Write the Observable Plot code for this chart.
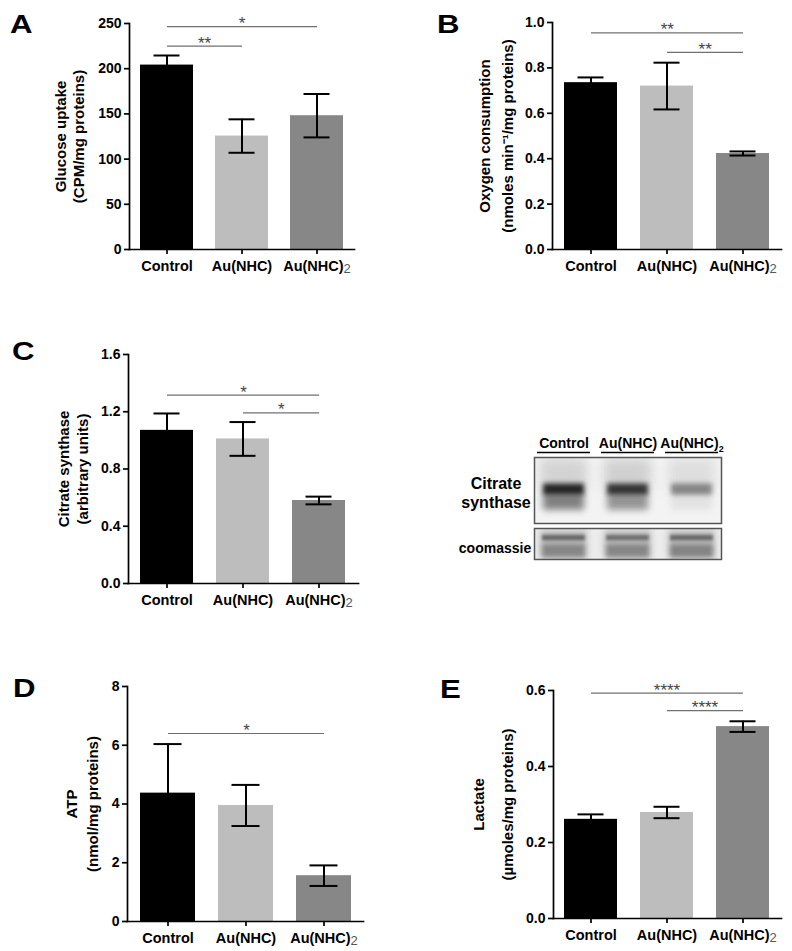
<!DOCTYPE html>
<html><head><meta charset="utf-8">
<script src="https://cdn.jsdelivr.net/npm/d3@7"></script>
<script src="https://cdn.jsdelivr.net/npm/@observablehq/plot@0.6"></script>
<style>
body{margin:0;background:#fff}
#fig{position:relative;width:792px;height:951px;background:#fff;overflow:hidden}
#fig > svg{position:absolute}
</style></head><body><div id="fig"></div>
<script>
const FONT = '"Liberation Sans", Arial, Helvetica, sans-serif';
const categories = ["Control", "Au(NHC)", "Au(NHC)2"];
const barColors = ["#000000", "#bdbdbd", "#878787"];

// A: glucose uptake
const glucoseMean = [204, 125.5, 148];
const glucoseErr = [10.6, 18.5, 24];
const glucoseTicks = [0, 50, 100, 150, 200, 250];
const glucoseSigFrom = [0, 0];
const glucoseSigTo = [2, 1];
const glucoseSigY = [246.5, 225];
const glucoseSigLabel = ["*", "**"];

// B: oxygen consumption
const oxygenMean = [0.735, 0.72, 0.423];
const oxygenErr = [0.023, 0.103, 0.009];
const oxygenTicks = [0, 0.2, 0.4, 0.6, 0.8, 1.0];
const oxygenSigFrom = [0, 1];
const oxygenSigTo = [2, 2];
const oxygenSigY = [0.954, 0.868];
const oxygenSigLabel = ["**", "**"];

// C: citrate synthase
const citrateMean = [1.07, 1.01, 0.58];
const citrateErr = [0.118, 0.118, 0.027];
const citrateTicks = [0, 0.4, 0.8, 1.2, 1.6];
const citrateSigFrom = [0, 1];
const citrateSigTo = [2, 2];
const citrateSigY = [1.316, 1.192];
const citrateSigLabel = ["*", "*"];

// D: ATP
const atpMean = [4.37, 3.95, 1.56];
const atpErr = [1.67, 0.70, 0.35];
const atpTicks = [0, 2, 4, 6, 8];
const atpSigFrom = [0];
const atpSigTo = [2];
const atpSigY = [6.40];
const atpSigLabel = ["*"];

// E: lactate
const lactateMean = [0.261, 0.279, 0.505];
const lactateErr = [0.013, 0.015, 0.014];
const lactateTicks = [0, 0.2, 0.4, 0.6];
const lactateSigFrom = [0, 1];
const lactateSigTo = [2, 2];
const lactateSigY = [0.593, 0.547];
const lactateSigLabel = ["****", "****"];

// Western blot (relative band densities)
const blotLanes = ["Control", "Au(NHC)", "Au(NHC)2"];
const csSmear = [0.20, 0.22, 0.13];
const csMain = [0.90, 0.82, 0.45];
const csLower = [0.55, 0.45, 0.08];
const cmBase = [0.30, 0.30, 0.30];
const cmTop = [0.55, 0.50, 0.55];
const cmLower = [0.40, 0.40, 0.42];

const fig = document.getElementById("fig");

// render a trailing "2" as a subscript tspan
function subscriptTwo(svg, size, weight, fill, dy) {
  d3.select(svg).selectAll("text").each(function () {
    if (this.children.length === 0 && this.textContent === "Au(NHC)2") {
      this.textContent = "Au(NHC)";
      d3.select(this).append("tspan").attr("font-size", size).attr("font-weight", weight)
        .attr("fill", fill).attr("dy", dy).text("2");
    }
  });
}

function barPanel(cfg) {
  const {means, errs, ticks, fmt, from, to, sigY, sigLabel, title, titleDx, left, top, width, height, m} = cfg;
  const data = categories.map((c, i) => ({group: c, mean: means[i], err: errs[i]}));
  const step = (width - m.l - m.r) / categories.length;
  const sig = from.map((f, k) => ({a: categories[f], b: categories[to[k]], y: sigY[k], label: sigLabel[k], span: to[k] - f}));
  const sw = 1.7;
  const plot = Plot.plot({
    width, height,
    marginLeft: m.l, marginRight: m.r, marginTop: m.t, marginBottom: m.b,
    style: {fontFamily: FONT, color: "black", background: "transparent", overflow: "visible"},
    x: {domain: categories, paddingInner: 0.3, paddingOuter: 0.15, label: null, axis: null},
    y: {domain: [0, ticks[ticks.length - 1]], label: null, axis: null},
    color: {domain: categories, range: barColors},
    marks: [
      Plot.barY(data, {x: "group", y: "mean", fill: "group"}),
      Plot.ruleX(data, {x: "group", y1: d => d.mean - d.err, y2: d => d.mean + d.err, stroke: "black", strokeWidth: 2}),
      Plot.tickY(data, {x: "group", y: d => d.mean + d.err, stroke: "black", strokeWidth: 2, inset: 13.5}),
      Plot.tickY(data, {x: "group", y: d => d.mean - d.err, stroke: "black", strokeWidth: 2, inset: 13.5}),
      Plot.link(sig, {x1: "a", x2: "b", y1: "y", y2: "y", stroke: "#707070", strokeWidth: 1.2}),
      ...sig.map(s => Plot.text([s], {x: "a", y: "y", text: "label", dx: s.span * step / 2, dy: -3, fontSize: 17, fill: "#444", fontWeight: "normal"})),
      Plot.axisY({ticks, tickFormat: fmt, tickSize: 5, tickPadding: 3, fontSize: 14, fontWeight: "bold", strokeWidth: sw, label: null}),
      Plot.axisX({tickSize: 5, tickPadding: 6, fontSize: 14.5, fontWeight: "bold", strokeWidth: sw, label: null}),
      Plot.frame({anchor: "left", strokeWidth: sw}),
      Plot.frame({anchor: "bottom", strokeWidth: sw}),
      ...title.map((t, k) => Plot.text([t], {text: d => d, frameAnchor: "left", textAnchor: "middle", rotate: -90, dx: titleDx[k], fontSize: 15, fontWeight: "bold"}))
    ]
  });
  subscriptTwo(plot, 13, "normal", "#555", 2);
  plot.style.left = left + "px";
  plot.style.top = top + "px";
  fig.appendChild(plot);
}

barPanel({means: glucoseMean, errs: glucoseErr, ticks: glucoseTicks, fmt: d3.format("d"),
  from: glucoseSigFrom, to: glucoseSigTo, sigY: glucoseSigY, sigLabel: glucoseSigLabel,
  title: ["Glucose uptake", "(CPM/mg proteins)"], titleDx: [-68, -50],
  left: 0, top: 0, width: 400, height: 300, m: {l: 129, r: 46, t: 23, b: 51}});

barPanel({means: oxygenMean, errs: oxygenErr, ticks: oxygenTicks, fmt: d3.format(".1f"),
  from: oxygenSigFrom, to: oxygenSigTo, sigY: oxygenSigY, sigLabel: oxygenSigLabel,
  title: ["Oxygen consumption", "(nmoles min⁻¹/mg proteins)"], titleDx: [-67, -44.5],
  left: 400, top: 0, width: 392, height: 300, m: {l: 152, r: 11, t: 22, b: 51}});

barPanel({means: citrateMean, errs: citrateErr, ticks: citrateTicks, fmt: d3.format(".1f"),
  from: citrateSigFrom, to: citrateSigTo, sigY: citrateSigY, sigLabel: citrateSigLabel,
  title: ["Citrate synthase", "(arbitrary units)"], titleDx: [-64, -45.5],
  left: 0, top: 300, width: 400, height: 320, m: {l: 128, r: 42, t: 54, b: 37}});

barPanel({means: atpMean, errs: atpErr, ticks: atpTicks, fmt: d3.format("d"),
  from: atpSigFrom, to: atpSigTo, sigY: atpSigY, sigLabel: atpSigLabel,
  title: ["ATP", "(nmol/mg proteins)"], titleDx: [-55, -34.5],
  left: 0, top: 620, width: 400, height: 331, m: {l: 127, r: 37, t: 66, b: 30}});

barPanel({means: lactateMean, errs: lactateErr, ticks: lactateTicks, fmt: d3.format(".1f"),
  from: lactateSigFrom, to: lactateSigTo, sigY: lactateSigY, sigLabel: lactateSigLabel,
  title: ["Lactate", "(µmoles/mg proteins)"], titleDx: [-74, -45.5],
  left: 400, top: 620, width: 392, height: 331, m: {l: 153, r: 11, t: 70, b: 33}});

// Western blot strips
const blotX = {domain: blotLanes, paddingInner: 0.17, paddingOuter: 0.045, axis: null};
function lane(arr, y1, y2, fill, inset, blur) {
  return Plot.barY(blotLanes, {x: d => d, y1: () => y1, y2: () => y2, fill, fillOpacity: (d, i) => arr[i],
    insetLeft: inset, insetRight: inset, ariaDescription: "band" + blur, clip: true});
}
function blurBands(svg) {
  svg.querySelectorAll('[aria-description^="band"]').forEach(el => {
    const px = +el.getAttribute("aria-description").slice(4);
    el.style.filter = `blur(${px}px)`;
  });
}
const csPlot = Plot.plot({
  width: 300, height: 106, marginLeft: 94, marginRight: 19, marginTop: 37, marginBottom: 3,
  style: {fontFamily: FONT, color: "black", background: "transparent", overflow: "visible"},
  x: blotX, y: {domain: [0, 1], axis: null}, opacity: {type: "identity"},
  marks: [
    Plot.frame({fill: "#f3f3f3", stroke: null}),
    lane(csSmear, 0.50, 0.98, "#555", 3, 6),
    lane(csLower, 0.20, 0.46, "#222", 6, 3.5),
    lane(csMain, 0.43, 0.60, "#111", 6, 2.5),
    Plot.frame({stroke: "#555", strokeWidth: 1.5}),
    Plot.tickY(blotLanes, {x: d => d, y: () => 1.076, stroke: "black", strokeWidth: 1.5}),
    Plot.text(blotLanes, {x: d => d, text: d => d, frameAnchor: "top", lineAnchor: "bottom", dy: -10, fontSize: 14, fontWeight: "bold"})
  ]
});
subscriptTwo(csPlot, 9, "bold", "black", 4);
blurBands(csPlot);
csPlot.style.left = "440px"; csPlot.style.top = "420px";
fig.appendChild(csPlot);

const cmPlot = Plot.plot({
  width: 300, height: 36, marginLeft: 94, marginRight: 19, marginTop: 2, marginBottom: 3,
  style: {fontFamily: FONT, color: "black", background: "transparent", overflow: "visible"},
  x: blotX, y: {domain: [0, 1], axis: null}, opacity: {type: "identity"},
  marks: [
    Plot.frame({fill: "#ececec", stroke: null}),
    lane(cmBase, 0.02, 0.95, "#555", 3, 3),
    lane(cmLower, 0.05, 0.48, "#333", 5, 2.5),
    lane(cmTop, 0.60, 0.78, "#222", 5, 1.5),
    Plot.frame({stroke: "#555", strokeWidth: 1.5})
  ]
});
blurBands(cmPlot);
cmPlot.style.left = "440px"; cmPlot.style.top = "526px";
fig.appendChild(cmPlot);

// Panel letters and blot row labels
const ov = d3.select(fig).append("svg").attr("width", 792).attr("height", 951)
  .style("left", "0px").style("top", "0px").style("pointer-events", "none")
  .style("font-family", FONT);
[["A", 10, 33], ["B", 437, 33], ["C", 12, 360], ["D", 13, 697], ["E", 440, 698]].forEach(([t, x, y]) =>
  ov.append("text").attr("transform", `translate(${x},${y}) scale(1.2,1)`).attr("font-size", 26).attr("font-weight", "bold").text(t));
[["Citrate", 496, 489, 16], ["synthase", 496, 508, 16], ["coomassie", 495, 553, 14]].forEach(([t, x, y, s]) =>
  ov.append("text").attr("x", x).attr("y", y).attr("text-anchor", "middle").attr("font-size", s).attr("font-weight", "bold").text(t));
</script></body></html>
